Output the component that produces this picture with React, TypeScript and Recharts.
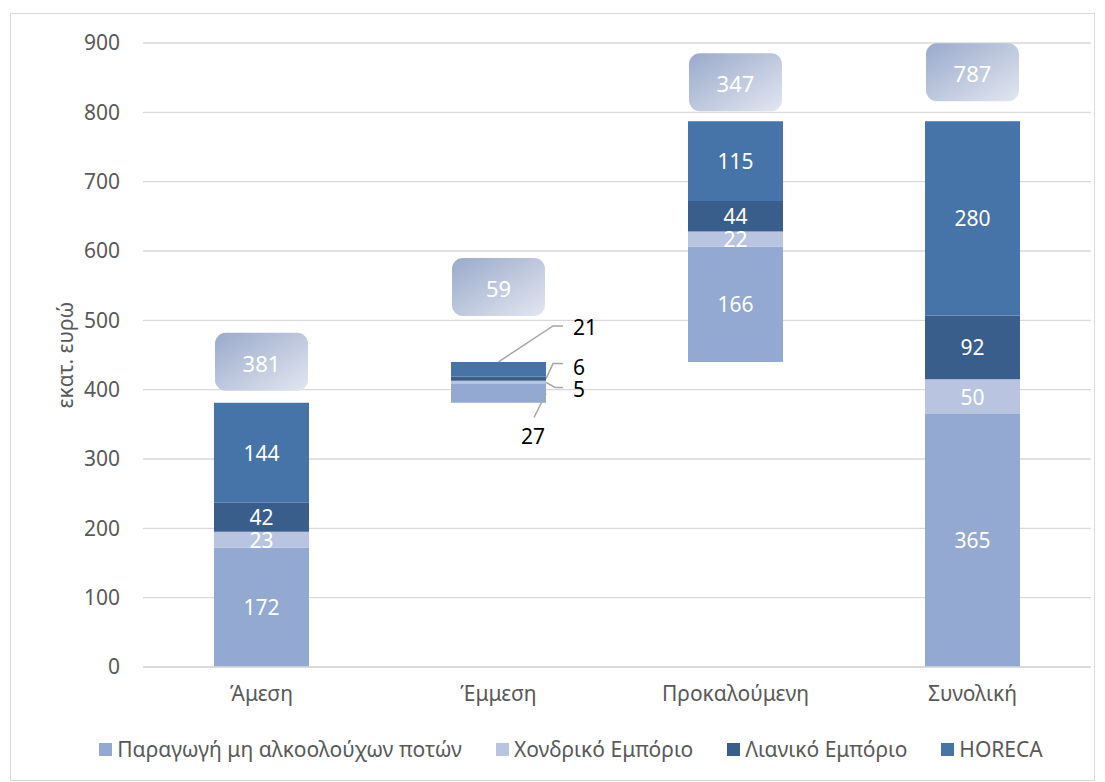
import React from "react";
import { BarChart, Bar, XAxis, YAxis, CartesianGrid, LabelList } from "recharts";

const categories = ["Άμεση", "Έμμεση", "Προκαλούμενη", "Συνολική"];
const baseValues = [0, 381, 440, 0];
const production = [172, 27, 166, 365];
const wholesale = [23, 5, 22, 50];
const retail = [42, 6, 44, 92];
const horeca = [144, 21, 115, 280];
const totals = [381, 59, 347, 787];
const yTicks = [0, 100, 200, 300, 400, 500, 600, 700, 800, 900];

const series = [
  { key: "production", name: "Παραγωγή μη αλκοολούχων ποτών", color: "#94a9d1" },
  { key: "wholesale", name: "Χονδρικό Εμπόριο", color: "#b9c5e0" },
  { key: "retail", name: "Λιανικό Εμπόριο", color: "#3a5e8c" },
  { key: "horeca", name: "HORECA", color: "#4673a8" },
];

const data = categories.map((name, i) => ({
  name,
  base: baseValues[i],
  production: production[i],
  wholesale: wholesale[i],
  retail: retail[i],
  horeca: horeca[i],
  total: totals[i],
}));

const FONT = "'Noto Sans', sans-serif";
const GREY = "#595959";

// pixel gap between bar top and the total box, per category
const boxLift = [12, 46, 10, 20];

function box(props: any) {
  const vb = props.viewBox || props;
  const { x, y, width } = vb;
  const i = props.index;
  const h = 58;
  const bottom = y - boxLift[i];
  return (
    <g>
      <rect x={x + 1} y={bottom - h} width={width - 2} height={h} rx={11} fill="url(#boxGrad)" />
      <text x={x + width / 2} y={bottom - h / 2 + 1} textAnchor="middle" dominantBaseline="central"
        fill="#fff" fontSize={22} fontFamily={FONT}>
        {totals[i]}
      </text>
    </g>
  );
}

// leader-line callouts for the thin Έμμεση segments
function segLabel(key: string) {
  return (props: any) => {
    const vb = props.viewBox || props;
    const { x, y, width, height } = vb;
    const value = props.value;
    if (props.index !== 1) {
      return (
        <text x={x + width / 2} y={y + height / 2} textAnchor="middle" dominantBaseline="central"
          fill="#fff" fontSize={21} fontFamily={FONT}>
          {value}
        </text>
      );
    }
    const r = x + width;
    const mid = y + height / 2;
    let pts: number[][] = [];
    let tx = r + 27;
    let ty = mid;
    let anchor = "start";
    if (key === "horeca") {
      pts = [[x + width / 2, y], [r + 7, y - 36], [r + 17, y - 36]];
      ty = y - 35;
    } else if (key === "retail") {
      pts = [[r, mid], [r + 7, mid - 15], [r + 17, mid - 15]];
      ty = mid - 12;
    } else if (key === "wholesale") {
      pts = [[r, mid], [r + 9, mid + 5], [r + 17, mid + 5]];
      ty = mid + 7;
    } else {
      pts = [[r, mid], [r - 12, mid + 24]];
      tx = r - 13;
      ty = mid + 43;
      anchor = "middle";
    }
    return (
      <g>
        <polyline points={pts.map((p) => p.join(",")).join(" ")} fill="none" stroke="#a6a6a6" strokeWidth={1.5} />
        <text x={tx} y={ty} textAnchor={anchor as any} dominantBaseline="central" fill="#000"
          fontSize={21} fontFamily={FONT}>
          {value}
        </text>
      </g>
    );
  };
}

function yLabel() {
  return (
    <text x={65} y={355} transform="rotate(-90 65 355)" textAnchor="middle" dominantBaseline="central"
      fill={GREY} fontSize={21} fontFamily={FONT}>
      εκατ. ευρώ
    </text>
  );
}

function Legend() {
  return (
    <div style={{ position: "absolute", left: 0, top: 735, width: 1105, display: "flex", justifyContent: "center",
      gap: 34, paddingLeft: 37, boxSizing: "border-box", fontFamily: FONT, fontSize: 21, color: GREY }}>
      {series.map((s) => (
        <div key={s.key} style={{ display: "flex", alignItems: "center" }}>
          <span style={{ width: 13, height: 13, background: s.color, marginRight: 5, display: "inline-block" }} />
          <span>{s.name}</span>
        </div>
      ))}
    </div>
  );
}

export default function App() {
  return (
    <div style={{ position: "absolute", left: 0, top: 0, width: 1105, height: 782, background: "#fff" }}>
      <div style={{ position: "absolute", left: 10, top: 13, width: 1083, height: 766, border: "1px solid #d9d9d9" }} />
      <BarChart width={1105} height={782} data={data} barSize={95}
        margin={{ top: 43, right: 14, left: 0, bottom: 55 }}>
        <defs>
          <linearGradient id="boxGrad" x1="0" y1="0" x2="1" y2="1">
            <stop offset="0%" stopColor="#9aaacb" />
            <stop offset="100%" stopColor="#e2e6f0" />
          </linearGradient>
        </defs>
        <CartesianGrid vertical={false} stroke="#d9d9d9" strokeWidth={1.3} />
        <XAxis dataKey="name" height={60} tickLine={false} tickSize={0} tickMargin={19}
          axisLine={{ stroke: "#d9d9d9", strokeWidth: 1.3 }}
          tick={{ fill: GREY, fontSize: 21, fontFamily: FONT }} />
        <YAxis width={143} domain={[0, 900]} ticks={yTicks} axisLine={false} tickLine={false} tickSize={0}
          tickMargin={23} tick={{ fill: GREY, fontSize: 21, fontFamily: FONT }} label={yLabel} />
        <Bar dataKey="base" stackId="s" fill="transparent" isAnimationActive={false} legendType="none" />
        {series.map((s) => (
          <Bar key={s.key} dataKey={s.key} name={s.name} stackId="s" fill={s.color} isAnimationActive={false}>
            <LabelList dataKey={s.key} content={segLabel(s.key)} />
            {s.key === "horeca" ? <LabelList dataKey="total" content={box} /> : null}
          </Bar>
        ))}
      </BarChart>
      <Legend />
    </div>
  );
}
